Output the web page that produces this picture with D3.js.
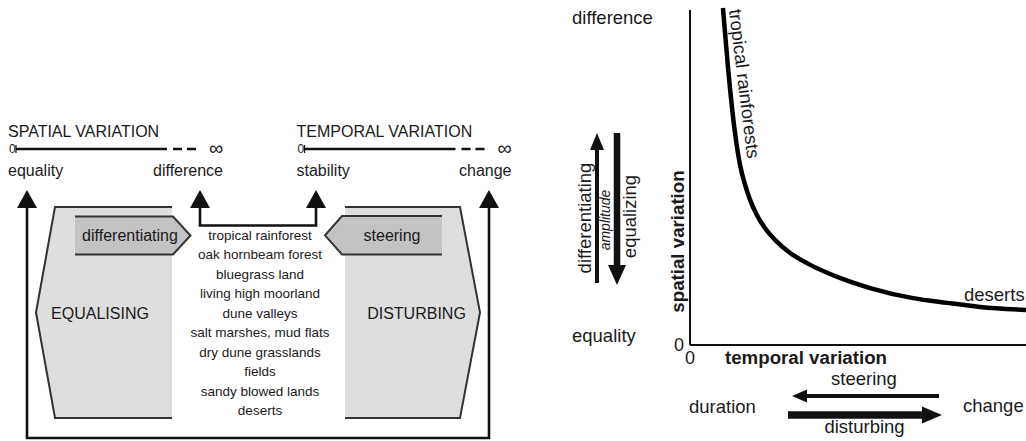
<!DOCTYPE html>
<html><head><meta charset="utf-8">
<script src="https://cdn.jsdelivr.net/npm/d3@7"></script>
<style>
body{margin:0;background:#fff}
svg{display:block}
text{font-family:"Liberation Sans",Arial,Helvetica,sans-serif;fill:#1a1a1a}
</style>
</head><body>
<svg id="c" width="1026" height="441"></svg>
<script>
// ---------- data ----------
const habitats = ["tropical rainforest","oak hornbeam forest","bluegrass land","living high moorland","dune valleys","salt marshes, mud flats","dry dune grasslands","fields","sandy blowed lands","deserts"];
const scaleTitles = ["SPATIAL VARIATION","TEMPORAL VARIATION"];
const scaleStartLabels = ["equality","stability"];
const scaleEndLabels = ["difference","change"];
const processLabels = ["EQUALISING","DISTURBING"];
const subProcessLabels = ["differentiating","steering"];
// curve: temporal variation (x) vs spatial variation (y), 0..10 units
const curveTemporal = [0.98,1.13,1.34,1.49,1.64,1.79,1.99,2.23,2.53,2.98,3.48,4.46,5.36,6.64,7.65,8.63,10.0];
const curveSpatial  = [10.0,8.25,6.29,5.34,4.75,4.30,3.86,3.47,3.12,2.73,2.43,1.99,1.69,1.39,1.25,1.13,1.04];
const curveLabels = ["tropical rainforests","deserts"];
const axisTitles = ["temporal variation","spatial variation"];
const amplitudeLabels = ["differentiating","amplitude","equalizing"];
const sideLabels = ["difference","equality"];
const durationLabels = ["duration","change"];
const arrowLabels = ["steering","disturbing"];

const svg = d3.select("#c");
svg.append("rect").attr("width",1026).attr("height",441).attr("fill","#fff");
const ink = "#111";

function head(g, tip, dir, len, half){
  const [x,y]=tip; let pts;
  if(dir==="up") pts=[[x,y],[x-half,y+len],[x+half,y+len]];
  if(dir==="down") pts=[[x,y],[x-half,y-len],[x+half,y-len]];
  if(dir==="left") pts=[[x,y],[x+len,y-half],[x+len,y+half]];
  if(dir==="right") pts=[[x,y],[x-len,y-half],[x-len,y+half]];
  g.append("polygon").attr("points",pts.map(p=>p.join(",")).join(" ")).attr("fill",ink);
}

// ---------- left diagram ----------
const L = svg.append("g");
const scaleX0 = [8, 296.5];
scaleX0.forEach((x0,i)=>{
  L.append("text").attr("x",x0).attr("y",137).attr("font-size",16).text(scaleTitles[i]);
  L.append("text").attr("x",x0+1).attr("y",153).attr("font-size",12).text("0");
  L.append("line").attr("x1",x0+8).attr("x2",x0+8).attr("y1",145).attr("y2",153).attr("stroke",ink).attr("stroke-width",1.2);
  L.append("line").attr("x1",x0+8).attr("x2",x0+159).attr("y1",149).attr("y2",149).attr("stroke",ink).attr("stroke-width",2.6);
  L.append("line").attr("x1",x0+165).attr("x2",x0+188).attr("y1",149).attr("y2",149).attr("stroke",ink).attr("stroke-width",2.6).attr("stroke-dasharray","9,5");
  L.append("text").attr("x",x0+201).attr("y",155).attr("font-size",20).text("\u221E");
  L.append("text").attr("x",x0).attr("y",176).attr("font-size",16).text(scaleStartLabels[i]);
  L.append("text").attr("x",x0+215).attr("y",176).attr("font-size",16).attr("text-anchor","end").text(scaleEndLabels[i]);
});

// process polygons
const light="#dedede", dark="#c3c3c3", edge="#333";
const line = d3.line();
const eqPoly=[[172,207],[55,207],[36,312.5],[55,418],[172,418]];
L.append("path").attr("d",line(eqPoly)+"Z").attr("fill",light);
L.append("path").attr("d",line(eqPoly)).attr("fill","none").attr("stroke",edge).attr("stroke-width",2);
const diffBox=[[75,216.5],[173,216.5],[190.5,235.5],[173,254.5],[75,254.5]];
L.append("path").attr("d",line(diffBox)+"Z").attr("fill",dark);
L.append("path").attr("d",line(diffBox)).attr("fill","none").attr("stroke",edge).attr("stroke-width",2);

const diPoly=[[345,207],[460,207],[480,312.5],[460,418],[345,418]];
L.append("path").attr("d",line(diPoly)+"Z").attr("fill",light);
L.append("path").attr("d",line(diPoly)).attr("fill","none").attr("stroke",edge).attr("stroke-width",2);
const stBox=[[442,216],[342,216],[325,235.3],[342,254.5],[442,254.5]];
L.append("path").attr("d",line(stBox)+"Z").attr("fill",dark);
L.append("path").attr("d",line(stBox)).attr("fill","none").attr("stroke",edge).attr("stroke-width",2);

L.append("text").attr("x",130).attr("y",241).attr("font-size",16).attr("text-anchor","middle").text(subProcessLabels[0]);
L.append("text").attr("x",392).attr("y",240.5).attr("font-size",16).attr("text-anchor","middle").text(subProcessLabels[1]);
L.append("text").attr("x",100).attr("y",318.5).attr("font-size",16).attr("text-anchor","middle").text(processLabels[0]);
L.append("text").attr("x",416.5).attr("y",318.5).attr("font-size",16).attr("text-anchor","middle").text(processLabels[1]);

// habitat list
const hy = d3.scalePoint().domain(habitats).range([239.5,415]);
L.selectAll("text.hab").data(habitats).join("text").attr("class","hab")
  .attr("x",260).attr("y",d=>hy(d)).attr("font-size",13.5).attr("text-anchor","middle").text(d=>d);

// connector arrows
L.append("path").attr("d","M27,206V438H489V206").attr("fill","none").attr("stroke",ink).attr("stroke-width",2.6);
L.append("path").attr("d","M200,206V225.5H316V206").attr("fill","none").attr("stroke",ink).attr("stroke-width",2.6);
[27,489,200,316].forEach(x=>head(L,[x,190],"up",18,10));

// ---------- right chart ----------
const R = svg.append("g");
const x = d3.scaleLinear().domain([0,10]).range([690,1026]);
const y = d3.scaleLinear().domain([0,10]).range([345,8]);

R.append("line").attr("x1",x(0)).attr("x2",x(0)).attr("y1",y(0)).attr("y2",y(9.94)).attr("stroke",ink).attr("stroke-width",2);
R.append("line").attr("x1",x(0)).attr("x2",x(10)).attr("y1",y(0)).attr("y2",y(0)).attr("stroke",ink).attr("stroke-width",2);
R.append("text").attr("x",684).attr("y",350.5).attr("font-size",18).attr("text-anchor","end").text("0");
R.append("text").attr("x",x(0)).attr("y",363.5).attr("font-size",18).attr("text-anchor","middle").text("0");

const pts = curveTemporal.map((t,i)=>[x(t),y(curveSpatial[i])]);
R.append("path").attr("d",d3.line().curve(d3.curveMonotoneX)(pts)).attr("fill","none").attr("stroke","#000").attr("stroke-width",4.5);

R.append("text").attr("transform","translate(729,10) rotate(83)").attr("font-size",18.4).text(curveLabels[0]);
R.append("text").attr("x",964).attr("y",301).attr("font-size",18.5).text(curveLabels[1]);

R.append("text").attr("x",725).attr("y",363.5).attr("font-size",18.7).attr("font-weight","bold").text(axisTitles[0]);
R.append("text").attr("transform","translate(684,241.5) rotate(-90)").attr("font-size",18.7).attr("font-weight","bold").attr("text-anchor","middle").text(axisTitles[1]);

R.append("text").attr("x",572).attr("y",24).attr("font-size",18.5).text(sideLabels[0]);
R.append("text").attr("x",572).attr("y",342).attr("font-size",18.5).text(sideLabels[1]);

// amplitude arrows
R.append("line").attr("x1",597).attr("x2",597).attr("y1",283).attr("y2",148).attr("stroke",ink).attr("stroke-width",4);
head(R,[597,133],"up",17,7);
R.append("line").attr("x1",617).attr("x2",617).attr("y1",133).attr("y2",267).attr("stroke",ink).attr("stroke-width",6.5);
head(R,[617,285],"down",20,9);
R.append("text").attr("transform","translate(591,218) rotate(-90)").attr("font-size",18.5).attr("text-anchor","middle").text(amplitudeLabels[0]);
R.append("text").attr("transform","translate(610,220) rotate(-90)").attr("font-size",14).attr("font-style","italic").attr("text-anchor","middle").text(amplitudeLabels[1]);
R.append("text").attr("transform","translate(636,216.5) rotate(-90)").attr("font-size",18.5).attr("text-anchor","middle").text(amplitudeLabels[2]);

// duration arrows
R.append("line").attr("x1",939).attr("x2",805).attr("y1",396).attr("y2",396).attr("stroke",ink).attr("stroke-width",4);
head(R,[792,396],"left",15,6.5);
R.append("line").attr("x1",788).attr("x2",924).attr("y1",415).attr("y2",415).attr("stroke",ink).attr("stroke-width",7.5);
head(R,[942,415],"right",20,8.5);
R.append("text").attr("x",864).attr("y",384.5).attr("font-size",18.5).attr("text-anchor","middle").text(arrowLabels[0]);
R.append("text").attr("x",864.5).attr("y",433).attr("font-size",18.5).attr("text-anchor","middle").text(arrowLabels[1]);
R.append("text").attr("x",689).attr("y",413).attr("font-size",18.5).text(durationLabels[0]);
R.append("text").attr("x",963).attr("y",412).attr("font-size",18.5).text(durationLabels[1]);
</script>
</body></html>
